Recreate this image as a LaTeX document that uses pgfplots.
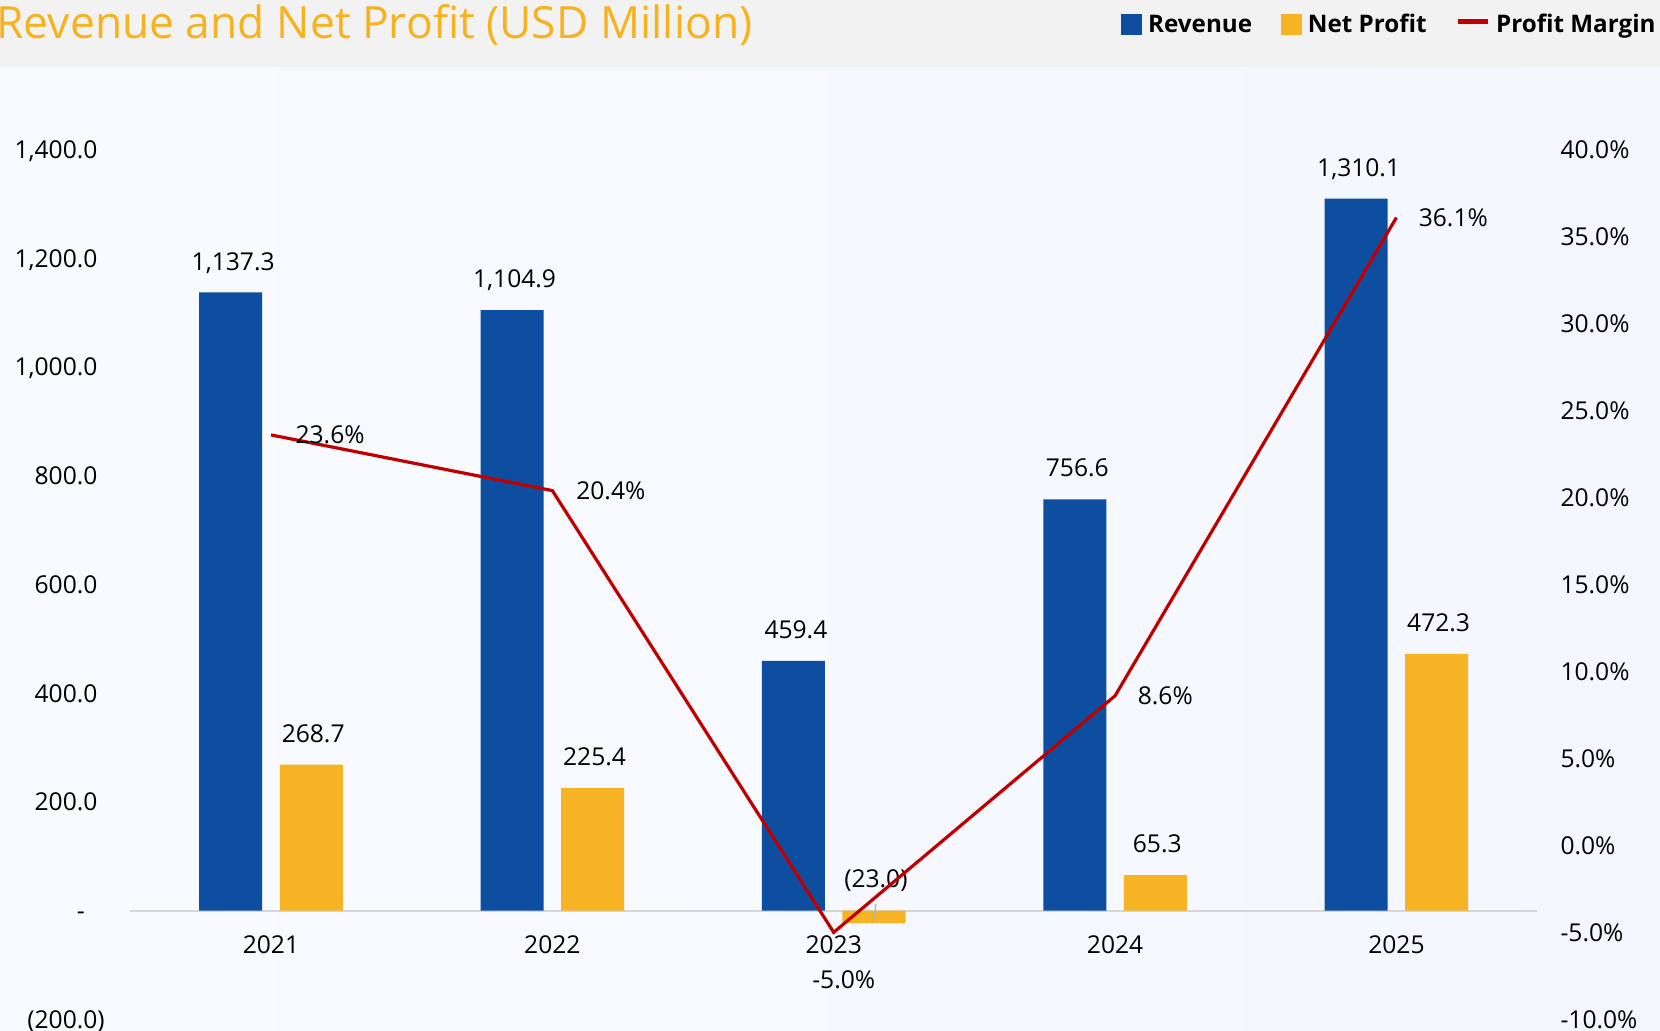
\documentclass[border=0pt]{standalone}
\usepackage{pgfplots}
\pgfplotsset{compat=1.18}
\usepackage{pgfplotstable}
\usepackage{fontspec}
\setmainfont{Open Sans}

\definecolor{revBlue}{RGB}{13,78,161}
\definecolor{npGold}{RGB}{246,179,36}
\definecolor{marginRed}{RGB}{192,0,0}
\definecolor{titleGold}{RGB}{247,178,31}
\definecolor{headGray}{RGB}{242,242,242}
\definecolor{zeroGray}{RGB}{214,214,214}
\definecolor{bgL}{RGB}{249,250,253}
\definecolor{bgR}{RGB}{243,247,253}

\newcommand{\lblfont}{\fontsize{12.3}{14}\selectfont}

%% revenue / net profit, USD million, with the printed labels
\pgfplotstableread{
x rev revl np npl lift
0 1137.3 1,137.3 268.7 268.7 11.2
1 1104.9 1,104.9 225.4 225.4 11.2
2 459.4 459.4 -23.0 (23.0) 17.9
3 756.6 756.6 65.3 65.3 11.2
4 1310.1 1,310.1 472.3 472.3 11.2
}\finTable

%% profit margin, percent; dx/dy place each label
\pgfplotstableread{
x m dx dy
0 23.6 11.5 0
1 20.4 11.2 0
2 -5.0 -11.5 -23.8
3 8.6 10.6 0
4 36.1 10.4 0
}\marTable

\pgfplotsset{
  frame/.style={
    at={(65.15pt,5.35pt)}, anchor=south west,
    width=703.4pt, height=434.8pt, scale only axis,
    xmin=-0.5, xmax=4.5,
    enlargelimits=false, clip=false,
    axis line style={draw=none},
    tick style={draw=none}, major tick length=0pt,
    tick label style={font=\lblfont},
  },
}

\begin{document}
\begin{tikzpicture}
\path[use as bounding box] (0,0) rectangle (830pt,515pt);
\shade[left color=bgL, right color=bgR] (0,0) rectangle (830pt,481.7pt);
\fill[headGray] (0,481.7pt) rectangle (830pt,515pt);
\node[anchor=base west, inner sep=0pt, text=titleGold,
      font=\fontsize{22.2}{26}\selectfont] at (-2pt,495.5pt)
  {Revenue and Net Profit (USD Million)};

\begin{axis}[
  frame,
  ymin=-200, ymax=1400,
  axis x line*=bottom, axis y line*=left,
  xtick={0,1,2,3,4},
  xticklabels={2021,2022,2023,2024,2025},
  xticklabel style={anchor=base, inner sep=0pt, yshift=33.15pt},
  ytick={-200,0,200,400,600,800,1000,1200,1400},
  yticklabels={(200.0), {-\hspace*{10pt}}, 200.0\hphantom{)}, 400.0\hphantom{)},
               600.0\hphantom{)}, 800.0\hphantom{)}, {1,000.0\hphantom{)}},
               {1,200.0\hphantom{)}}, {1,400.0\hphantom{)}}},
  yticklabel style={anchor=base east, inner sep=0pt, xshift=-12.6pt, yshift=-4.4pt},
]
\draw[zeroGray, line width=1pt] (axis cs:-0.5,0) -- (axis cs:4.5,0);
\addplot[ybar, bar width=0.224, bar shift=-0.1432, fill=revBlue, draw=none,
  nodes near coords, point meta=explicit symbolic,
  every node near coord/.append style={anchor=base, inner sep=0pt,
    xshift=-18.9pt, yshift=11.2pt, text=black, font=\lblfont}]
  table[x=x, y=rev, meta=revl] {\finTable};
\addplot[ybar, bar width=0.224, bar shift=0.1432, fill=npGold, draw=none,
  nodes near coords, point meta=explicit symbolic,
  visualization depends on={\thisrow{lift} \as \lift},
  every node near coord/.append style={anchor=base, inner sep=0pt,
    xshift=21.1pt, yshift=\lift pt, text=black, font=\lblfont}]
  table[x=x, y=np, meta=npl] {\finTable};
\draw[gray!60, line width=0.6pt] (axis cs:2.150,12) -- (axis cs:2.141,-22);
\end{axis}

\begin{axis}[
  frame,
  ymin=-10, ymax=40,
  axis x line=none, axis y line*=right,
  ytick={-10,-5,0,5,10,15,20,25,30,35,40},
  yticklabels={-10.0\%, -5.0\%, 0.0\%, 5.0\%, 10.0\%, 15.0\%, 20.0\%,
               25.0\%, 30.0\%, 35.0\%, 40.0\%},
  yticklabel style={anchor=base west, inner sep=0pt, xshift=11.5pt, yshift=-4.4pt},
  legend style={at={(1.0845,1.1444)}, anchor=east, legend columns=3,
    draw=none, fill=none, inner sep=0pt,
    font=\bfseries\fontsize{12.1}{14}\selectfont,
    nodes={inner sep=0pt, text height=8.6pt, text depth=0pt},
    /tikz/every odd column/.append style={column sep=3pt},
    /tikz/every even column/.append style={column sep=14.5pt}},
  legend cell align=left,
]
\addlegendimage{legend image code/.code={\fill[revBlue] (0pt,-5pt) rectangle (10pt,5pt);}}
\addlegendentry{Revenue}
\addlegendimage{legend image code/.code={\fill[npGold] (0pt,-5pt) rectangle (10pt,5pt);}}
\addlegendentry{Net Profit}
\addplot[marginRed, line width=1.6pt, sharp plot, mark=none,
  legend image code/.code={\draw[marginRed, line width=2.3pt] (0pt,1.4pt) -- (15pt,1.4pt);},
  nodes near coords={\pgfplotspointmeta\%}, point meta=explicit symbolic,
  visualization depends on={\thisrow{dx} \as \dx},
  visualization depends on={\thisrow{dy} \as \dy},
  every node near coord/.append style={anchor=west, inner sep=0pt,
    xshift=\dx pt, yshift=\dy pt, text=black, font=\lblfont}]
  table[x=x, y=m, meta=m] {\marTable};
\addlegendentry{Profit Margin}
\end{axis}
\end{tikzpicture}
\end{document}
